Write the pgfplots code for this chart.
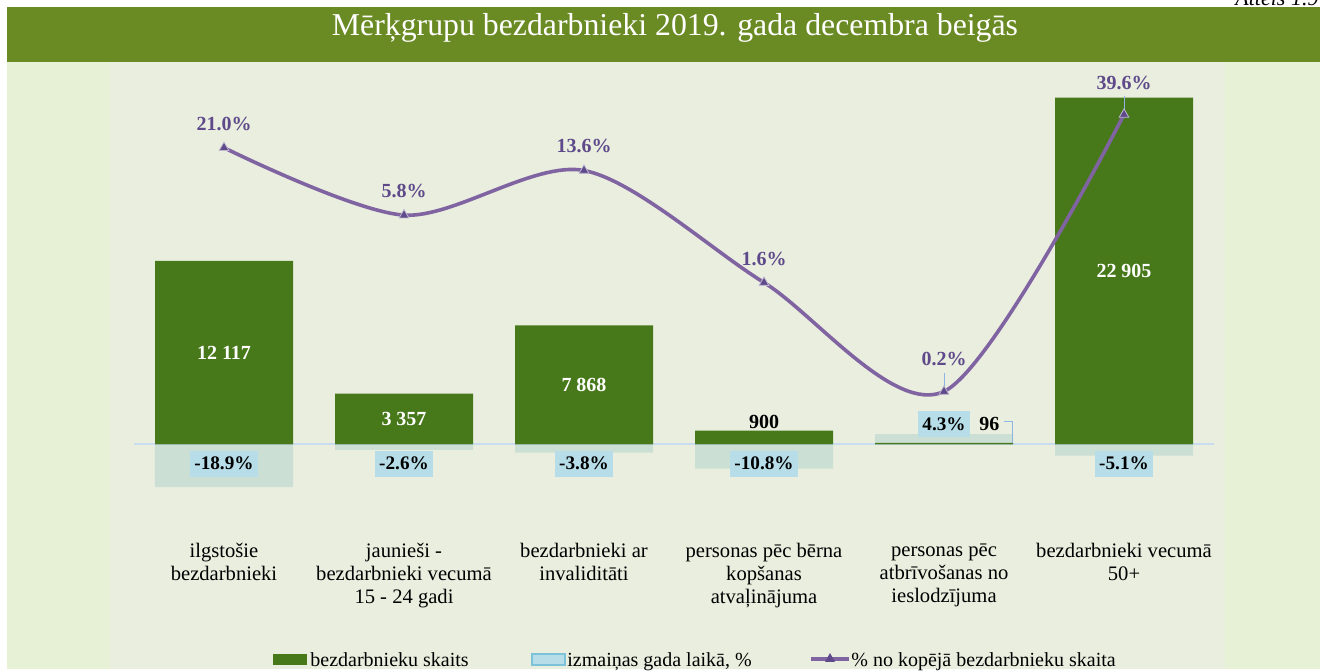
\documentclass[border=0pt]{standalone}
\usepackage{fontspec}
\setmainfont{Liberation Serif}
\usepackage{pgfplots}
\pgfplotsset{compat=1.18}

\definecolor{titlebar}{HTML}{6A8A23}
\definecolor{outerbg}{HTML}{E6F1D6}
\definecolor{plotbg}{HTML}{EAEEDF}
\definecolor{bargreen}{HTML}{47781A}
\definecolor{chgbox}{HTML}{B7DDE8}
\definecolor{chgbar}{HTML}{CCDFD5}
\definecolor{chgedge}{HTML}{7CC3DA}
\definecolor{linepurple}{HTML}{8064A2}
\definecolor{labpurple}{HTML}{5E4A8A}
\definecolor{zeroline}{HTML}{C9DCF0}
\definecolor{leader}{HTML}{8EB4E3}

\pgfplotsset{
  chartbase/.style={
    at={(0pt,0pt)}, anchor=south west,
    scale only axis, width=540pt, height=227pt,
    xmin=-0.5, xmax=5.5, clip=false,
  },
}
\tikzset{
  px/.style={x=0.5pt, y=-0.5pt, shift={(-134,-520)}},
  barlab/.style={text=white, font=\bfseries\fontsize{10}{12}\selectfont},
  chglab/.style={fill=chgbox, inner xsep=2pt, inner ysep=0pt, minimum height=13pt,
    font=\bfseries\fontsize{9.6}{11}\selectfont},
}

\begin{document}
\begin{tikzpicture}
% background, title bar (reference pixel coordinates)
\begin{scope}[px]
  \useasboundingbox (0,0) rectangle (1320,669);
  \fill[outerbg] (7,62) rectangle (1320,669);
  \fill[plotbg] (110,62) rectangle (1225,669);
  \fill[titlebar] (7,7) rectangle (1320,62);
  \node[anchor=base, text=white, font=\fontsize{15.9}{18}\selectfont, inner sep=0pt]
    at (675,36) {Mērķgrupu bezdarbnieki 2019. gada decembra beigās};
  \node[anchor=base west, font=\itshape\fontsize{11}{13}\selectfont, inner sep=0pt]
    at (1235,6) {Attēls 1.9};
\end{scope}

% change during the year, %
\begin{axis}[chartbase, hide axis, ymin=-33.33, ymax=165.8, ybar, bar width=69pt]
  \addplot[fill=chgbar, draw=none] coordinates {
    (0,-18.9) (1,-2.6) (2,-3.8) (3,-10.8) (4,4.3) (5,-5.1)
  };
  \draw[zeroline, line width=0.8pt] (axis cs:-0.5,0) -- (axis cs:5.5,0);
\end{axis}

% number of unemployed
\begin{axis}[chartbase, ymin=-5000, ymax=25000, ybar, bar width=69pt,
  axis line style={draw=none}, tick style={draw=none}, ytick=\empty,
  xtick={0,1,2,3,4,5},
  xticklabels={{ilgstošie\\bezdarbnieki},
    {jaunieši -\\bezdarbnieki vecumā\\15 - 24 gadi},
    {bezdarbnieki ar\\invaliditāti},
    {personas pēc bērna\\kopšanas\\atvaļinājuma},
    {personas pēc\\atbrīvošanas no\\ieslodzījuma},
    {bezdarbnieki vecumā\\50+}},
  xticklabel style={align=center, font=\fontsize{10.3}{11.5}\selectfont, yshift=-4pt},
  ]
  \addplot[fill=bargreen, draw=none] coordinates {
    (0,12117) (1,3357) (2,7868) (3,900) (4,96) (5,22905)
  };
  \node[barlab] at (axis cs:0,6058) {12 117};
  \node[barlab] at (axis cs:1,1678) {3 357};
  \node[barlab] at (axis cs:2,3934) {7 868};
  \node[barlab] at (axis cs:5,11452) {22 905};
  \node[barlab, text=black, anchor=base, inner sep=0pt, yshift=1pt] at (axis cs:3,900) {900};
  % change labels at the base of the bars
  \node[chglab, anchor=north, yshift=-3pt] at (axis cs:0,0) {-18.9\%};
  \node[chglab, anchor=north, yshift=-3pt] at (axis cs:1,0) {-2.6\%};
  \node[chglab, anchor=north, yshift=-3pt] at (axis cs:2,0) {-3.8\%};
  \node[chglab, anchor=north, yshift=-3pt] at (axis cs:3,0) {-10.8\%};
  \node[chglab, anchor=south, yshift=3.5pt] at (axis cs:4,0) {4.3\%};
  \node[chglab, anchor=north, yshift=-3pt] at (axis cs:5,0) {-5.1\%};
\end{axis}

% share of all unemployed, % (log scale)
\begin{axis}[chartbase, hide axis, ymode=log, ymin=0.0172, ymax=100]
  \addplot[linepurple, line width=1.8pt, smooth, mark=triangle*, mark size=2.8pt,
    mark options={solid, fill=labpurple, draw=labpurple!40, line width=0.4pt},
    point meta=rawy,
    visualization depends on={value \coordindex \as \ci},
    nodes near coords={\pgfmathprintnumber[fixed, fixed zerofill, precision=1,
      assume math mode=true]{\pgfplotspointmeta}\%},
    every node near coord/.append style={anchor=center, text=labpurple,
      font=\bfseries\fontsize{10}{12}\selectfont, yshift={12+(\ci>3)*4}},
  ] coordinates {
    (0,21.0) (1,5.8) (2,13.6) (3,1.6) (4,0.2) (5,39.6)
  };
  \draw[leader, line width=0.5pt] ([yshift=2pt]axis cs:4,0.2) -- ([yshift=9pt]axis cs:4,0.2);
  \draw[leader, line width=0.5pt] ([yshift=1pt]axis cs:5,39.6) -- ([yshift=9pt]axis cs:5,39.6);
\end{axis}

% label of the small bar and the legend
\begin{scope}[px]
  \node[anchor=base west, inner sep=0pt, font=\bfseries\fontsize{10}{12}\selectfont]
    at (979,431) {96};
  \draw[leader, line width=0.5pt] (1004,422) -- (1012,422) -- (1012,443);
  \fill[bargreen] (273,654) rectangle (307,665);
  \node[anchor=base west, inner sep=0pt, font=\fontsize{10}{12}\selectfont]
    at (310,667) {bezdarbnieku skaits};
  \filldraw[fill=chgbox, draw=chgedge, line width=0.6pt] (532,654) rectangle (565,665);
  \node[anchor=base west, inner sep=0pt, font=\fontsize{10}{12}\selectfont]
    at (567,667) {izmaiņas gada laikā, \%};
  \draw[linepurple, line width=1.8pt] (811,659) -- (849,659);
  \fill[labpurple] (830,653) -- (835,662) -- (825,662) -- cycle;
  \node[anchor=base west, inner sep=0pt, font=\fontsize{10}{12}\selectfont]
    at (851,667) {\% no kopējā bezdarbnieku skaita};
\end{scope}
\end{tikzpicture}
\end{document}
